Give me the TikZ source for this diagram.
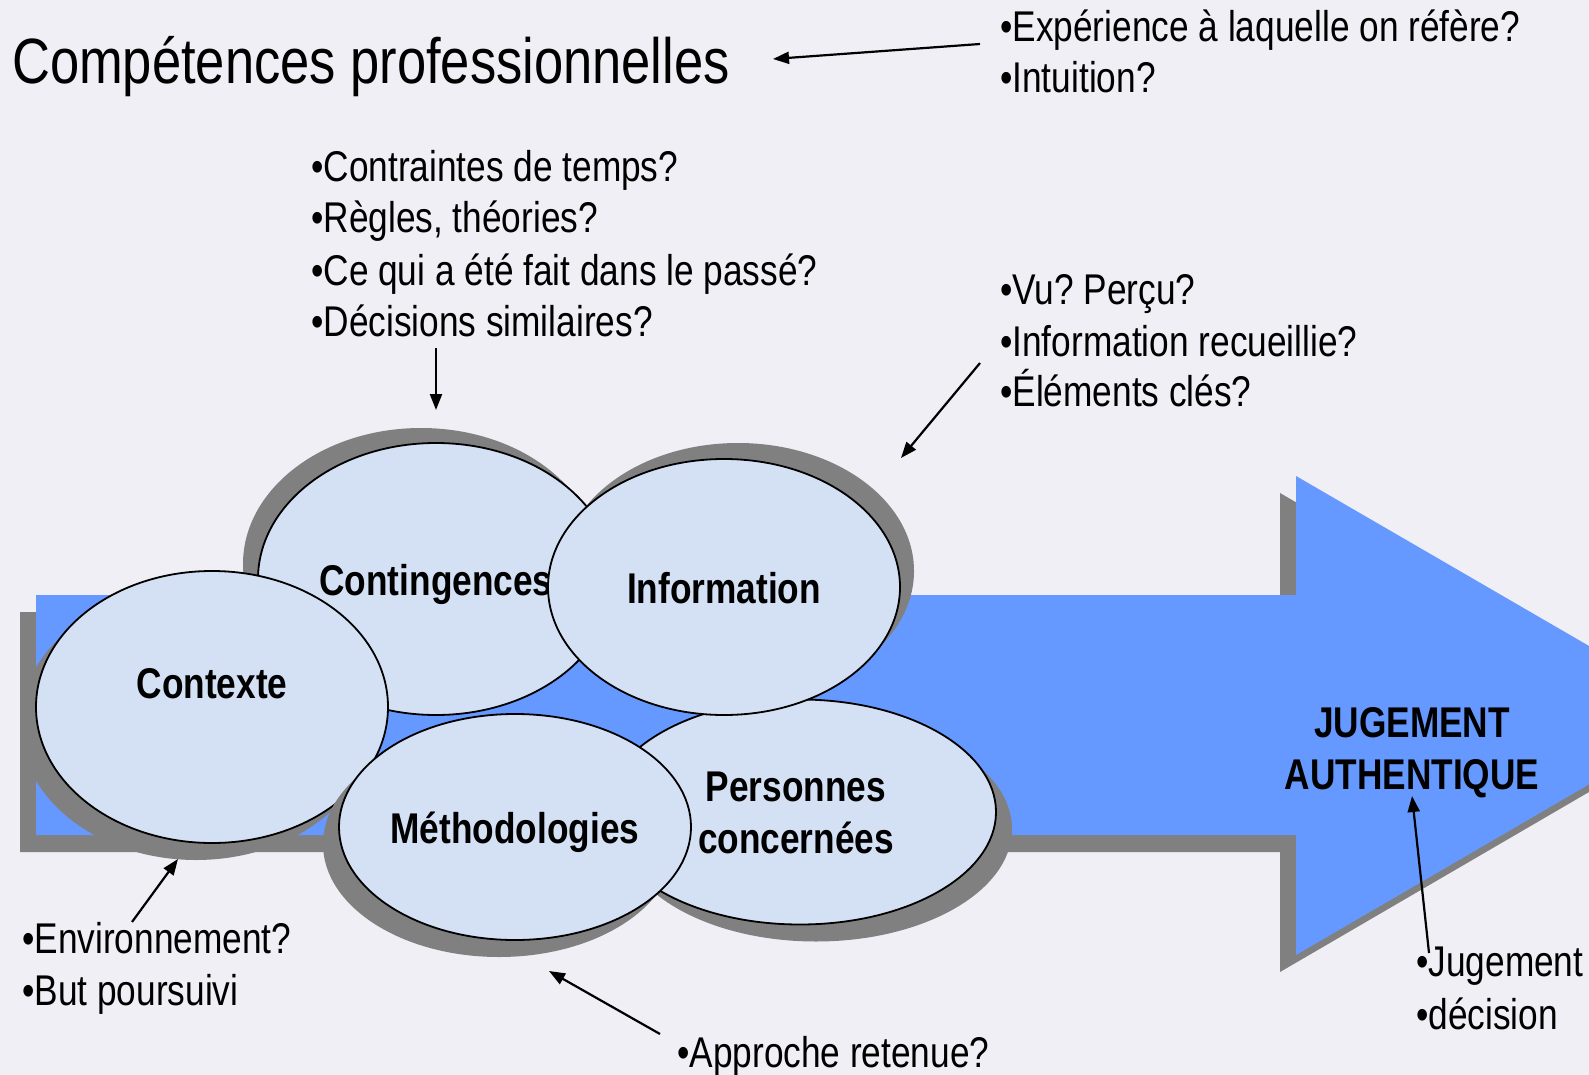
\documentclass[tikz,border=0pt]{standalone}
\usepackage{fontspec}
\setmainfont{Liberation Sans}[FakeStretch=0.82]
\usetikzlibrary{arrows.meta,shapes.geometric,shadows}
\frenchspacing

\definecolor{fond}{HTML}{EFEFF5}
\definecolor{bleu}{HTML}{6699FF}
\definecolor{bullefond}{HTML}{D4E0F4}
\definecolor{ombre}{HTML}{808080}

\newcommand\corps{\fontsize{43pt}{51.7pt}\selectfont}
\newcommand\grand{\fontsize{64pt}{72pt}\selectfont}

\tikzset{
  ombrage/.style 2 args={drop shadow={shadow xshift=#1,shadow yshift=#2,fill=ombre,opacity=1}},
  bulle/.style={ellipse,draw=black,line width=1.8pt,fill=bullefond,inner sep=0pt},
  lbl/.style={font=\corps\bfseries,align=center,inner sep=0pt},
  txt/.style={anchor=base west,inner sep=0pt,font=\corps},
  pil/.style={-{Triangle[length=16pt,width=12pt]},line width=2.2pt},
}

\begin{document}
\begin{tikzpicture}[x=1pt,y=-1pt]
  \fill[fond] (0,0) rectangle (1589,1075);
  \useasboundingbox (0,0) rectangle (1589,1075);

  % grande fleche
  \fill[bleu,ombrage={-16pt}{-17pt}] (36,595) -- (1296,595) -- (1296,476) -- (1708,715)
    -- (1296,955) -- (1296,835) -- (36,835) -- cycle;
  \node[lbl] (jug) at (1412,753) {JUGEMENT\\AUTHENTIQUE};

  % bulles
  \node[bulle,ombrage={-15pt}{15pt},minimum width=356pt,minimum height=272pt] (conting) at (436,579) {};
  \node[lbl] (conting-t) at (436,584) {Contingences};
  \node[bulle,ombrage={-16pt}{-17pt},minimum width=352pt,minimum height=272pt] (ctx) at (212,707) {};
  \node[lbl] (ctx-t) at (212,684) {Contexte};
  \node[bulle,ombrage={16pt}{-17pt},minimum width=392pt,minimum height=225pt] (pers) at (800,812) {};
  \node[lbl] (pers-t) at (796,813) {Personnes\\concernées};
  \node[bulle,ombrage={14pt}{16pt},minimum width=352pt,minimum height=256pt] (info) at (724,587) {};
  \node[lbl] (info-t) at (724,588) {Information};
  \node[bulle,ombrage={-16pt}{-17pt},minimum width=352pt,minimum height=226pt] (meth) at (515,827) {};
  \node[lbl] (meth-t) at (515,832) {Méthodologies};

  % textes
  \node[anchor=base west,inner sep=0pt,font=\grand] (titre) at (12,84) {Compétences professionnelles};
  \node[txt] (exp1) at (1000,42) {•Expérience à laquelle on réfère?};
  \node[txt] (exp2) at (1000,93) {•Intuition?};
  \node[txt] (contr1) at (311,182) {•Contraintes de temps?};
  \node[txt] (contr2) at (311,233) {•Règles, théories?};
  \node[txt] (contr3) at (311,285) {•Ce qui a été fait dans le passé?};
  \node[txt] (contr4) at (311,336) {•Décisions similaires?};
  \node[txt] (vu1) at (1000,304) {•Vu? Perçu?};
  \node[txt] (vu2) at (1000,356) {•Information recueillie?};
  \node[txt] (vu3) at (1000,406) {•Éléments clés?};
  \node[txt] (env1) at (22,953) {•Environnement?};
  \node[txt] (env2) at (22,1005) {•But poursuivi};
  \node[txt] (appr) at (677,1067) {•Approche retenue?};
  \node[txt] (jug1) at (1416,976) {•Jugement};
  \node[txt] (jug2) at (1416,1029) {•décision};

  % fleches
  \coordinate (p-titre) at (773,59);
  \coordinate (p-conting) at (436,410);
  \coordinate (p-info) at (901,458);
  \coordinate (p-ctx) at (178,859);
  \coordinate (p-meth) at (549,971);
  \coordinate (p-jug) at (1412,796);
  \draw[pil] ([xshift=-20pt,yshift=-2pt]exp1.base west) -- (p-titre);
  \draw[pil] ([xshift=125pt,yshift=-12pt]contr4.base west) -- (p-conting);
  \draw[pil] ([xshift=-20pt,yshift=-7pt]vu2.base west) -- (p-info);
  \draw[pil] ([xshift=110pt,yshift=31pt]env1.base west) -- (p-ctx);
  \draw[pil] ([xshift=-17pt,yshift=33pt]appr.base west) -- (p-meth);
  \draw[pil] ([xshift=13pt,yshift=23pt]jug1.base west) -- (p-jug);
\end{tikzpicture}
\end{document}
